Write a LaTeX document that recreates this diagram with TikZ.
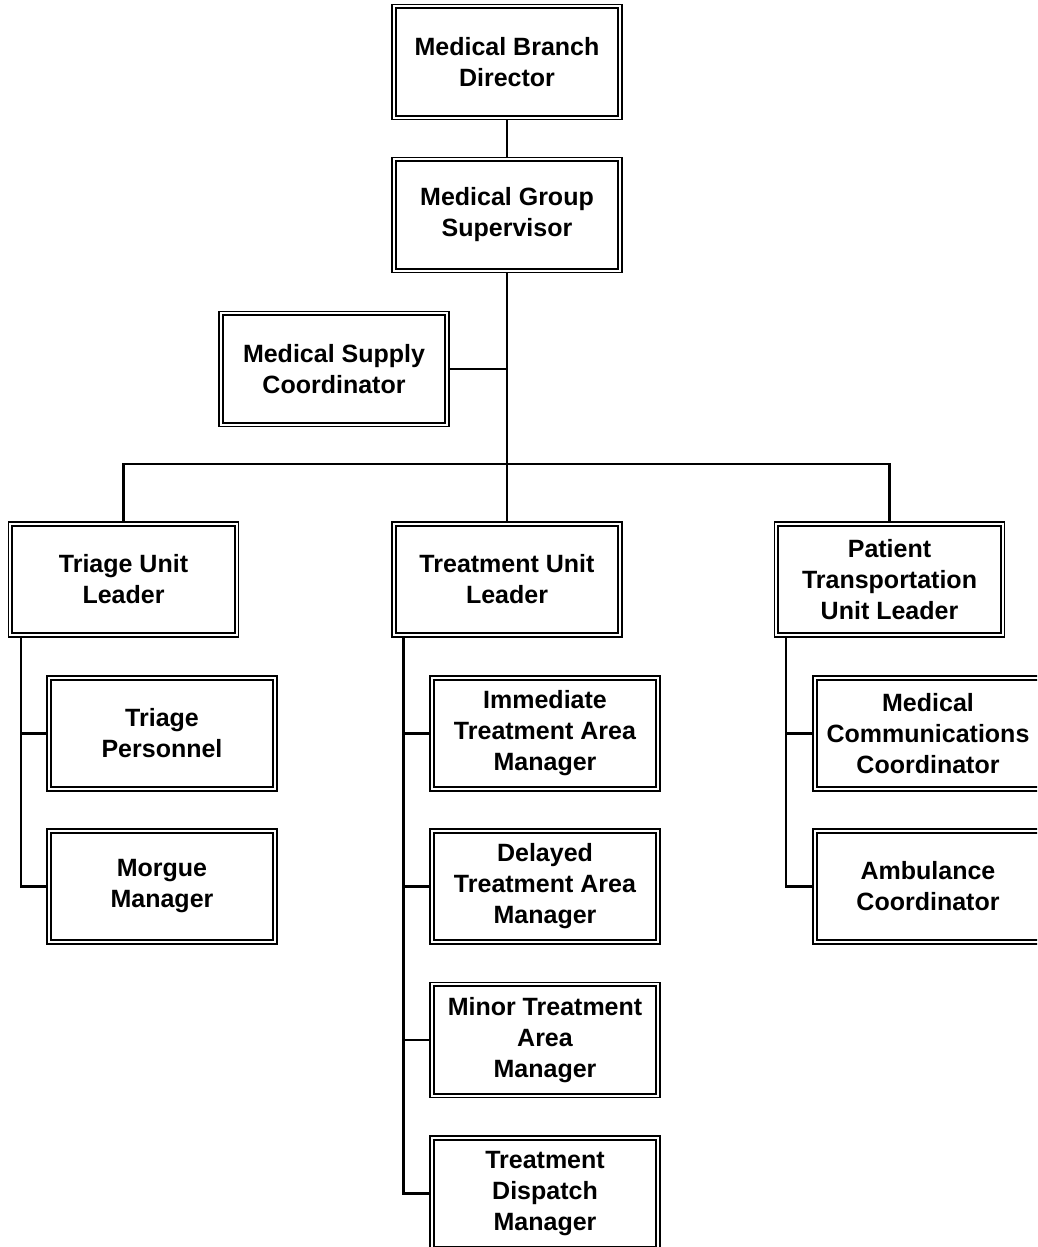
\documentclass[tikz,border=0pt]{standalone}
\usepackage{fontspec}
\setmainfont{Liberation Sans}
\begin{document}
\begin{tikzpicture}[x=1pt,y=-1pt,
  orgbox/.style={draw, line width=1.2pt, minimum width=230pt, minimum height=115pt,
    inner sep=0pt, align=center, font=\fontsize{25}{31}\selectfont\bfseries,
    path picture={\draw[line width=2.2pt]
      ([shift={(3.8pt,-3.8pt)}]path picture bounding box.north west) rectangle
      ([shift={(-3.8pt,3.8pt)}]path picture bounding box.south east);}},
  link/.style={draw, line width=2.2pt}]
\useasboundingbox (0,0) rectangle (1037,1247);
\clip (0,0) rectangle (1037,1247);
\node[orgbox] (dir)    at (507,62)    {Medical Branch\\Director};
\node[orgbox] (sup)    at (507,215)   {Medical Group\\Supervisor};
\node[orgbox] (supply) at (334,369)   {Medical Supply\\Coordinator};
\node[orgbox] (triage) at (123.5,579.5) {Triage Unit\\Leader};
\node[orgbox] (treat)  at (507,579.5) {Treatment Unit\\Leader};
\node[orgbox] (pat)    at (889.5,579.5) {Patient\\Transportation\\Unit Leader};
\node[orgbox] (triper) at (162,733.5) {Triage\\Personnel};
\node[orgbox] (morgue) at (162,886.5) {Morgue\\Manager};
\node[orgbox] (imm)    at (545,733.5) {Immediate\\Treatment Area\\Manager};
\node[orgbox] (del)    at (545,886.5) {Delayed\\Treatment Area\\Manager};
\node[orgbox] (minor)  at (545,1040)  {Minor Treatment\\Area\\Manager};
\node[orgbox] (disp)   at (545,1193.5) {Treatment\\Dispatch\\Manager};
\node[orgbox] (comm)   at (928,733.5) {Medical\\Communications\\Coordinator};
\node[orgbox] (amb)    at (928,886.5) {Ambulance\\Coordinator};
\coordinate (bus) at (507,464);
\coordinate (tl) at ([xshift=13pt]triage.south west);
\coordinate (trl) at ([xshift=12pt]treat.south west);
\coordinate (pl) at ([xshift=12pt]pat.south west);
\path[link] (dir.south) -- (sup.north);
\path[link] (sup.south) -- (treat.north);
\path[link] (supply.east) -- (supply.east -| sup.south);
\path[link] (triage.north) |- (bus) -| (pat.north);
\path[link] (tl) |- (morgue.west);
\path[link] (tl |- triper.west) -- (triper.west);
\path[link] (trl) |- (disp.west);
\path[link] (trl |- imm.west) -- (imm.west);
\path[link] (trl |- del.west) -- (del.west);
\path[link] (trl |- minor.west) -- (minor.west);
\path[link] (pl) |- (amb.west);
\path[link] (pl |- comm.west) -- (comm.west);
\end{tikzpicture}
\end{document}
